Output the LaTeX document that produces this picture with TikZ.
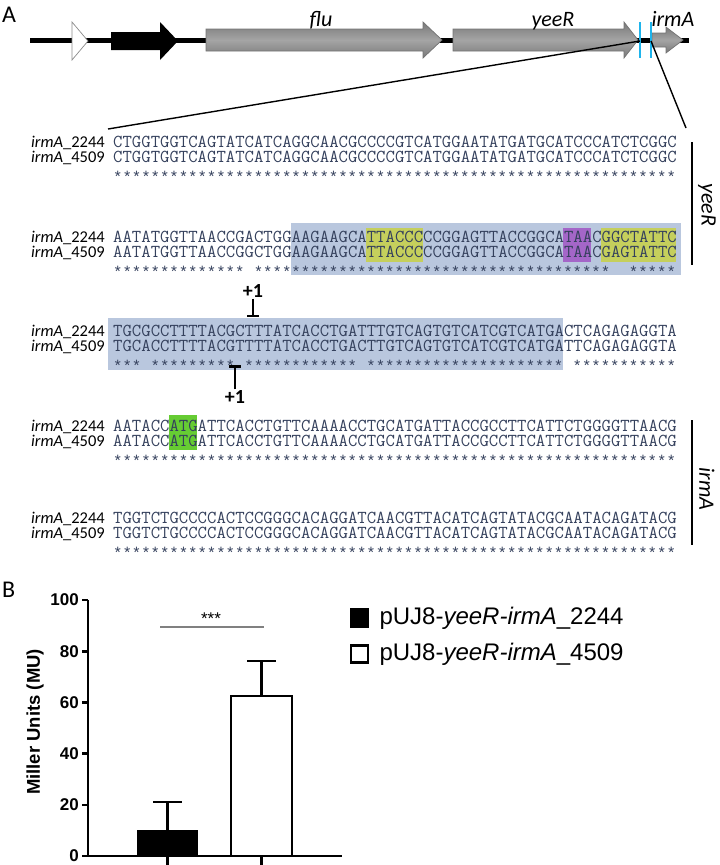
\documentclass[tikz,border=0pt]{standalone}
\usepackage{fontspec}
\setmainfont{Carlito}
\newfontfamily\starfont{Liberation Mono}
\newfontfamily\plotfont{Liberation Sans}
\usetikzlibrary{arrows.meta,positioning}

\definecolor{seqtext}{HTML}{34405C}
\definecolor{blockblue}{HTML}{B9C7DE}
\definecolor{boxyellow}{HTML}{C5CF5C}
\definecolor{boxpurple}{HTML}{A466C8}
\definecolor{boxgreen}{HTML}{66CC33}
\definecolor{genegray}{HTML}{8E8E8E}
\definecolor{cutblue}{HTML}{1EB4EC}

\begin{document}
\begin{tikzpicture}[x=1pt,y=-1pt,
	panel/.style={anchor=base west, inner sep=0pt, font=\fontsize{24}{26}\selectfont},
	genelbl/.style={anchor=base, inner sep=0pt, font=\fontsize{22}{24}\selectfont\itshape},
	gene/.style={top color=genegray!85!black, bottom color=genegray!85!black, middle color=genegray!80!white, draw=black!55, line width=0.7pt},
	cut/.style={draw=cutblue, line width=2.5pt},
	zoomline/.style={line width=1.4pt},
	seq/.style={anchor=base west, inner sep=0pt, text height=10pt, text depth=1pt, text=seqtext, font=\ttfamily\fontsize{18.24}{19}\selectfont},
	stars/.style={anchor=base west, inner sep=0pt, text height=9pt, text depth=0pt, text=seqtext, font=\starfont\fontsize{15.63}{16}\selectfont},
	strain/.style={anchor=base east, inner sep=0pt, text height=11pt, text depth=2pt, font=\fontsize{16.5}{18}\selectfont},
	region/.style={line width=2.5pt},
	regionlbl/.style={inner sep=0pt, rotate=-90, font=\fontsize{22}{24}\selectfont\itshape},
	tss/.style={inner sep=1pt, font=\fontsize{20}{22}\selectfont\bfseries},
	tssline/.style={line width=2.5pt, -{Bar[width=12pt,line width=2.5pt]}},
	axis/.style={line width=2.6pt},
	ticklbl/.style={anchor=east, inner sep=0pt, font=\plotfont\bfseries\fontsize{17}{18}\selectfont},
	key/.style={minimum size=17pt, inner sep=0pt, line width=2.6pt, draw=black},
	keylbl/.style={anchor=west, inner sep=0pt, font=\plotfont\fontsize{24}{26}\selectfont}
]
	\useasboundingbox (0,0) rectangle (720,865);

	\node[panel] (pA) at (2,22) {A};
	\draw[line width=5pt] (30,40) -- (689,40);
	\draw[fill=white, draw=black!45, line width=0.7pt] (72,22) -- (88,41) -- (72,60) -- cycle;
	\fill (111,32) -- (160,32) -- (160,22) -- (178,41) -- (160,60) -- (160,50) -- (111,50) -- cycle;
	\draw[gene] (206,29) -- (423,29) -- (423,22) -- (442,40) -- (423,58) -- (423,51) -- (206,51) -- cycle;
	\draw[gene] (453,29) -- (624,29) -- (624,22) -- (638,40) -- (624,58) -- (624,51) -- (453,51) -- cycle;
	\draw[gene] (652,33) -- (666,33) -- (666,27) -- (683,40) -- (666,53) -- (666,47) -- (652,47) -- cycle;
	\node[genelbl] (gflu) at (321,26) {flu};
	\node[genelbl] (gyeeR) at (553,26) {yeeR};
	\node[genelbl] (girmA) at (673,26) {irmA};
	\draw[cut] (640,22) coordinate (c1) -- (640,58);
	\draw[cut] (651,22) coordinate (c2) -- (651,58);
	\coordinate (zl) at (108,129);
	\coordinate (zr) at (686,128);
	\draw[zoomline] (640,41) -- (zl);
	\draw[zoomline] (651,41) -- (zr);

	\fill[blockblue] (291.2,223) rectangle (681,275);
	\fill[boxyellow] (366.3,228) rectangle (422.6,262);
	\fill[boxpurple] (563.2,228) rectangle (591.4,262);
	\fill[boxyellow] (600.8,228) rectangle (675.8,262);
	\fill[blockblue] (108,318) rectangle (563.2,370);
	\fill[boxgreen] (169.3,415) rectangle (197.4,450);

	\node[strain] (la1) at (105,147) {\textit{irmA}\_2244};
	\node[strain] (lb1) at (105,162) {\textit{irmA}\_4509};
	\node[seq] (sa1) at (113,147) {CTGGTGGTCAGTATCATCAGGCAACGCCCCGTCATGGAATATGATGCATCCCATCTCGGC};
	\node[seq] (sb1) at (113,162) {CTGGTGGTCAGTATCATCAGGCAACGCCCCGTCATGGAATATGATGCATCCCATCTCGGC};
	\node[stars] (st1) at (113,182) {{**********}{**********}{**********}{**********}{**********}{**********}};

	\node[strain] (la2) at (105,242) {\textit{irmA}\_2244};
	\node[strain] (lb2) at (105,257) {\textit{irmA}\_4509};
	\node[seq] (sa2) at (113,242) {AATATGGTTAACCGACTGGAAGAAGCATTACCCCCGGAGTTACCGGCATAACGGCTATTC};
	\node[seq] (sb2) at (113,257) {AATATGGTTAACCGGCTGGAAGAAGCATTACCCCCGGAGTTACCGGCATAACGAGTATTC};
	\node[stars] (st2) at (113,277) {{**********}{****}~{**********}{**********}{**********}{********}~~{*****}};

	\node[strain] (la3) at (105,336) {\textit{irmA}\_2244};
	\node[strain] (lb3) at (105,351) {\textit{irmA}\_4509};
	\node[seq] (sa3) at (113,336) {TGCGCCTTTTACGCTTTATCACCTGATTTGTCAGTGTCATCGTCATGACTCAGAGAGGTA};
	\node[seq] (sb3) at (113,351) {TGCACCTTTTACGTTTTATCACCTGACTTGTCAGTGTCATCGTCATGATTCAGAGAGGTA};
	\node[stars] (st3) at (113,371) {{***}~{*********}~{**********}{**}~{**********}{**********}{*}~{**********}{*}};

	\node[strain] (la4) at (105,431) {\textit{irmA}\_2244};
	\node[strain] (lb4) at (105,446) {\textit{irmA}\_4509};
	\node[seq] (sa4) at (113,431) {AATACCATGATTCACCTGTTCAAAACCTGCATGATTACCGCCTTCATTCTGGGGTTAACG};
	\node[seq] (sb4) at (113,446) {AATACCATGATTCACCTGTTCAAAACCTGCATGATTACCGCCTTCATTCTGGGGTTAACG};
	\node[stars] (st4) at (113,466) {{**********}{**********}{**********}{**********}{**********}{**********}};

	\node[strain] (la5) at (105,523) {\textit{irmA}\_2244};
	\node[strain] (lb5) at (105,538) {\textit{irmA}\_4509};
	\node[seq] (sa5) at (113,523) {TGGTCTGCCCCACTCCGGGCACAGGATCAACGTTACATCAGTATACGCAATACAGATACG};
	\node[seq] (sb5) at (113,538) {TGGTCTGCCCCACTCCGGGCACAGGATCAACGTTACATCAGTATACGCAATACAGATACG};
	\node[stars] (st5) at (113,558) {{**********}{**********}{**********}{**********}{**********}{**********}};

	\node[tss] (tssA) at (253,291) {+1};
	\coordinate (barA) at (253,317);
	\draw[tssline] (tssA) -- (barA);
	\node[tss] (tssB) at (235,397) {+1};
	\coordinate (barB) at (235,365);
	\draw[tssline] (tssB) -- (barB);

	\draw[region] (692,142) coordinate (ry1) -- (692,265) coordinate (ry2);
	\node[regionlbl] (ryeeR) at (707,205) {yeeR};
	\draw[region] (692,420) coordinate (ri1) -- (692,545) coordinate (ri2);
	\node[regionlbl] (rirmA) at (707,489) {irmA};

	\node[panel] (pB) at (2,597) {B};
	\draw[axis] (88,600) -- (88,856) coordinate (org) -- (342,856);
	\foreach \v in {0,20,...,100} {
		\draw[axis] (82,{856-2.56*\v}) -- (88,{856-2.56*\v});
		\node[ticklbl] (tk\v) at (79,{856-2.56*\v}) {\v};
	}
	\draw[axis] (167.5,856) -- (167.5,865);
	\draw[axis] (261.5,856) -- (261.5,865);
	\fill (137,856) rectangle (198,830);
	\draw[axis] (167.5,830) -- (167.5,802);
	\draw[axis] (153,802) -- (182,802);
	\draw[axis, fill=white] (231,856) rectangle (292,696);
	\draw[axis] (261.5,696) -- (261.5,661);
	\draw[axis] (247,661) -- (276,661);
	\node[font=\plotfont\bfseries\fontsize{18.5}{20}\selectfont, rotate=90] (ylab) at (35,722) {Miller Units (MU)};
	\draw[gray, line width=1.5pt] (160,627) coordinate (sigl) -- (264,627) coordinate (sigr);
	\node[font=\plotfont\fontsize{17}{18}\selectfont] (sig) at (211,619) {***};

	\node[key, fill=black] (key1) at (359.5,618) {};
	\node[keylbl, right=10pt of key1] (txt1) {pUJ8-\textit{yeeR-irmA}\_2244};
	\node[key, fill=white] (key2) at (359.5,654) {};
	\node[keylbl, right=10pt of key2] (txt2) {pUJ8-\textit{yeeR-irmA}\_4509};
\end{tikzpicture}
\end{document}
